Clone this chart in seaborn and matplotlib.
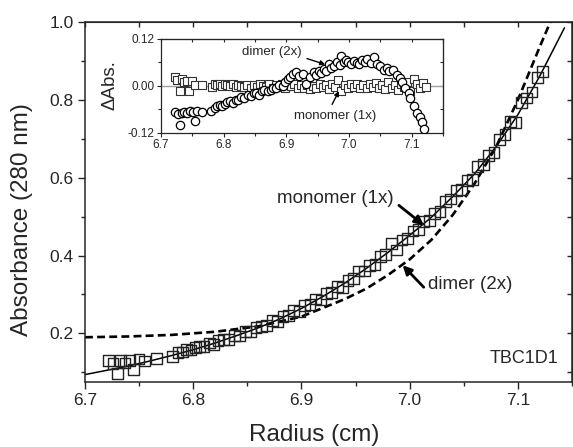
import matplotlib
matplotlib.use("Agg")
import matplotlib.pyplot as plt
from matplotlib.ticker import MultipleLocator
import seaborn as sns

sns.set_style("ticks")
plt.rcParams['font.family'] = ['Liberation Sans', 'DejaVu Sans']

# --- data ---
# fitted curves (monomer 1x = solid, dimer 2x = dashed)
mono_r = [6.70, 6.72, 6.74, 6.76, 6.78, 6.80, 6.82, 6.84, 6.86, 6.88, 6.90, 6.92,
          6.94, 6.96, 6.98, 7.00, 7.02, 7.04, 7.06, 7.08, 7.10, 7.12, 7.143]
mono_abs = [0.094, 0.105, 0.116, 0.129, 0.143, 0.158, 0.175, 0.194, 0.214, 0.237, 0.264, 0.295,
            0.329, 0.367, 0.408, 0.452, 0.498, 0.552, 0.610, 0.680, 0.762, 0.860, 0.985]

dimer_r = [6.70, 6.74, 6.78, 6.82, 6.86, 6.90, 6.94, 6.96, 6.98, 7.00, 7.02, 7.04,
           7.06, 7.08, 7.10, 7.12, 7.133]
dimer_abs = [0.190, 0.192, 0.196, 0.204, 0.218, 0.243, 0.288, 0.315, 0.350, 0.390, 0.440, 0.505,
             0.585, 0.680, 0.800, 0.935, 1.02]

# measured scan (squares)
scan_r = [6.722, 6.726, 6.730, 6.733, 6.737, 6.741, 6.745, 6.750, 6.755, 6.766, 6.781, 6.786,
          6.790, 6.794, 6.798, 6.802, 6.806, 6.810, 6.815, 6.819, 6.823, 6.828, 6.833, 6.838,
          6.843, 6.848, 6.853, 6.858, 6.863, 6.868, 6.873, 6.878, 6.883, 6.888, 6.893, 6.898,
          6.903, 6.908, 6.913, 6.918, 6.923, 6.928, 6.933, 6.938, 6.943, 6.948, 6.953, 6.958,
          6.963, 6.968, 6.973, 6.978, 6.983, 6.988, 6.993, 6.998, 7.003, 7.008, 7.013, 7.018,
          7.023, 7.028, 7.033, 7.038, 7.043, 7.048, 7.053, 7.058, 7.063, 7.068, 7.073, 7.078,
          7.083, 7.088, 7.093, 7.098, 7.103, 7.108, 7.113, 7.118, 7.123]
scan_abs = [0.130, 0.123, 0.097, 0.131, 0.124, 0.130, 0.107, 0.134, 0.129, 0.135, 0.141, 0.151,
            0.152, 0.158, 0.157, 0.164, 0.166, 0.166, 0.175, 0.172, 0.181, 0.184, 0.184, 0.194,
            0.193, 0.205, 0.205, 0.216, 0.217, 0.220, 0.233, 0.231, 0.243, 0.245, 0.259, 0.256,
            0.272, 0.275, 0.288, 0.286, 0.302, 0.305, 0.320, 0.317, 0.336, 0.340, 0.360, 0.360,
            0.375, 0.376, 0.398, 0.402, 0.431, 0.414, 0.440, 0.443, 0.463, 0.467, 0.488, 0.489,
            0.508, 0.513, 0.538, 0.545, 0.568, 0.570, 0.593, 0.595, 0.629, 0.634, 0.657, 0.664,
            0.698, 0.710, 0.744, 0.742, 0.794, 0.805, 0.820, 0.858, 0.873]

# residuals, monomer fit (squares)
resid_mono = [0.024, 0.015, -0.013, 0.019, 0.010, 0.013, -0.012, 0.012, 0.003, 0.002, -0.003, 0.004,
              0.002, 0.005, 0.001, 0.004, 0.003, 0.000, 0.004, -0.002, 0.003, 0.001, -0.003, 0.002,
              -0.004, 0.003, -0.002, 0.004, 0.000, -0.003, 0.004, -0.004, 0.002, -0.002, 0.005, -0.005,
              0.003, -0.001, 0.004, -0.006, 0.002, -0.004, 0.003, -0.008, 0.001, -0.004, 0.006, -0.003,
              0.002, -0.007, 0.004, -0.002, 0.016, -0.012, 0.003, -0.005, 0.004, -0.003, 0.006, -0.004,
              0.002, -0.006, 0.005, -0.002, 0.007, -0.005, 0.003, -0.008, 0.009, -0.004, 0.002, -0.009,
              0.006, -0.003, 0.011, -0.012, 0.017, 0.004, -0.006, 0.008, -0.003]

# residuals, dimer fit (circles)
resid_dimer_r = [6.722, 6.727, 6.730, 6.733, 6.737, 6.742, 6.746, 6.751, 6.754, 6.758, 6.766, 6.780,
                 6.786, 6.790, 6.794, 6.798, 6.802, 6.806, 6.810, 6.815, 6.819, 6.823, 6.828, 6.833,
                 6.839, 6.844, 6.848, 6.852, 6.857, 6.861, 6.865, 6.870, 6.875, 6.879, 6.883, 6.888,
                 6.894, 6.898, 6.902, 6.906, 6.910, 6.915, 6.920, 6.926, 6.931, 6.937, 6.944, 6.948,
                 6.952, 6.956, 6.960, 6.964, 6.968, 6.972, 6.976, 6.981, 6.985, 6.988, 6.992, 6.995,
                 6.999, 7.003, 7.008, 7.012, 7.016, 7.021, 7.025, 7.029, 7.035, 7.040, 7.045, 7.050,
                 7.056, 7.060, 7.064, 7.071, 7.077, 7.081, 7.085, 7.090, 7.095, 7.098, 7.103, 7.108,
                 7.113, 7.116, 7.119]
resid_dimer = [-0.067, -0.072, -0.100, -0.070, -0.066, -0.068, -0.063, -0.066, -0.090, -0.064, -0.067, -0.065,
               -0.057, -0.052, -0.048, -0.050, -0.046, -0.042, -0.039, -0.043, -0.036, -0.035, -0.027, -0.031,
               -0.022, -0.026, -0.019, -0.017, -0.022, -0.012, -0.011, -0.014, -0.009, -0.004, -0.005, 0.002,
               0.000, 0.010, 0.017, 0.024, 0.030, 0.035, 0.026, 0.030, 0.004, 0.023, 0.035, 0.028,
               0.039, 0.033, 0.043, 0.038, 0.057, 0.047, 0.050, 0.061, 0.054, 0.076, 0.062, 0.066,
               0.060, 0.057, 0.064, 0.058, 0.055, 0.066, 0.061, 0.070, 0.059, 0.074, 0.057, 0.050,
               0.042, 0.046, 0.038, 0.042, 0.029, 0.020, 0.009, -0.004, -0.017, -0.030, -0.052, -0.069,
               -0.078, -0.091, -0.110]

x_ticks = [6.7, 6.8, 6.9, 7.0, 7.1]
x_labels = ['6.7', '6.8', '6.9', '7.0', '7.1']
y_ticks = [0.2, 0.4, 0.6, 0.8, 1.0]
inset_y_ticks = [-0.12, 0.0, 0.12]


def mirror_ticks(ax, yticks, xminor, yminor, length, width):
    # top/right axes carry inward ticks without labels
    top = ax.secondary_xaxis('top')
    top.set_xticks(x_ticks)
    top.xaxis.set_minor_locator(MultipleLocator(xminor))
    top.tick_params(which='both', direction='in', length=length, width=width, labeltop=False)
    right = ax.secondary_yaxis('right')
    right.set_yticks(yticks)
    right.yaxis.set_minor_locator(MultipleLocator(yminor))
    right.tick_params(which='both', direction='in', length=length, width=width, labelright=False)


fig = plt.figure(figsize=(5.73, 4.47), dpi=100)
ax = fig.add_axes([0.1483, 0.1454, 0.85, 0.8054])

sns.lineplot(x=mono_r, y=mono_abs, ax=ax, color='black', lw=1.1)
sns.lineplot(x=dimer_r, y=dimer_abs, ax=ax, color='black', lw=1.9, dashes=False,
             linestyle=(0, (3, 1.6)))
sns.scatterplot(x=scan_r, y=scan_abs, ax=ax, marker='s', s=60, facecolor='none',
                edgecolor='#222222', linewidth=1.0, zorder=3)

ax.set_xlim(6.7, 7.15)
ax.set_ylim(0.075, 1.0)
ax.set_xticks(x_ticks)
ax.set_yticks(y_ticks)
ax.set_xticklabels(x_labels)
ax.set_yticklabels(['0.2', '0.4', '0.6', '0.8', '1.0'])
ax.xaxis.set_minor_locator(MultipleLocator(0.05))
ax.yaxis.set_minor_locator(MultipleLocator(0.1))
ax.tick_params(which='major', direction='out', length=5, width=1, labelsize=12.5, pad=3)
ax.tick_params(which='minor', direction='out', length=3, width=1)
for sp in ax.spines.values():
    sp.set_linewidth(1.1)
mirror_ticks(ax, y_ticks, 0.05, 0.1, 3.5, 1)

ax.set_xlabel("Radius (cm)", fontsize=17.5)
ax.set_ylabel("Absorbance (280 nm)", fontsize=17.5)
ax.xaxis.set_label_coords(0.47, -0.117)
ax.yaxis.set_label_coords(-0.107, 0.45)

arrow_kw = dict(arrowstyle='-|>', color='black', lw=2.0, mutation_scale=13, shrinkA=0, shrinkB=0)
ax.text(6.985, 0.547, "monomer (1x)", fontsize=13.5, ha='right', va='center')
ax.annotate("", xy=(7.013, 0.478), xytext=(6.990, 0.529), arrowprops=arrow_kw)
ax.text(7.017, 0.326, "dimer (2x)", fontsize=13.5, ha='left', va='center')
ax.annotate("", xy=(6.9935, 0.375), xytext=(7.013, 0.3185), arrowprops=arrow_kw)
ax.text(7.137, 0.136, "TBC1D1", fontsize=13, ha='right', va='center')

# --- inset with residuals ---
ins = fig.add_axes([0.281, 0.7025, 0.4921, 0.2103])
ins.axhline(0, color='#a0a0a0', lw=1.0, zorder=1)
sns.scatterplot(x=scan_r, y=resid_mono, ax=ins, marker='s', s=27, facecolor='white',
                edgecolor='#333333', linewidth=0.8, zorder=2)
sns.scatterplot(x=resid_dimer_r, y=resid_dimer, ax=ins, marker='o', s=36, facecolor='white',
                edgecolor='black', linewidth=0.9, zorder=3)
ins.set_xlim(6.7, 7.15)
ins.set_ylim(-0.12, 0.12)
ins.set_xticks(x_ticks)
ins.set_yticks(inset_y_ticks)
ins.set_xticklabels(x_labels)
ins.set_yticklabels(['-0.12', '0.00', '0.12'])
ins.xaxis.set_minor_locator(MultipleLocator(0.05))
ins.yaxis.set_minor_locator(MultipleLocator(0.06))
ins.tick_params(which='major', direction='out', length=3, width=0.8, labelsize=8.5, pad=1.5)
ins.tick_params(which='minor', direction='out', length=2, width=0.8)
for sp in ins.spines.values():
    sp.set_linewidth(0.9)
mirror_ticks(ins, inset_y_ticks, 0.05, 0.06, 2, 0.8)

ins.set_ylabel("ΔAbs.", fontsize=13.5)
ins.set_xlabel("")
ins.yaxis.set_label_coords(-0.152, 0.51)

small_arrow = dict(arrowstyle='-|>', color='black', lw=1.0, mutation_scale=7, shrinkA=0, shrinkB=0)
ins.text(6.830, 0.086, "dimer (2x)", fontsize=9.5, ha='left', va='center')
ins.annotate("", xy=(6.962, 0.055), xytext=(6.933, 0.070), arrowprops=small_arrow)
ins.text(6.913, -0.076, "monomer (1x)", fontsize=9.5, ha='left', va='center')
ins.annotate("", xy=(6.984, -0.013), xytext=(6.973, -0.047), arrowprops=small_arrow)

fig.savefig("out.png", dpi=100)
